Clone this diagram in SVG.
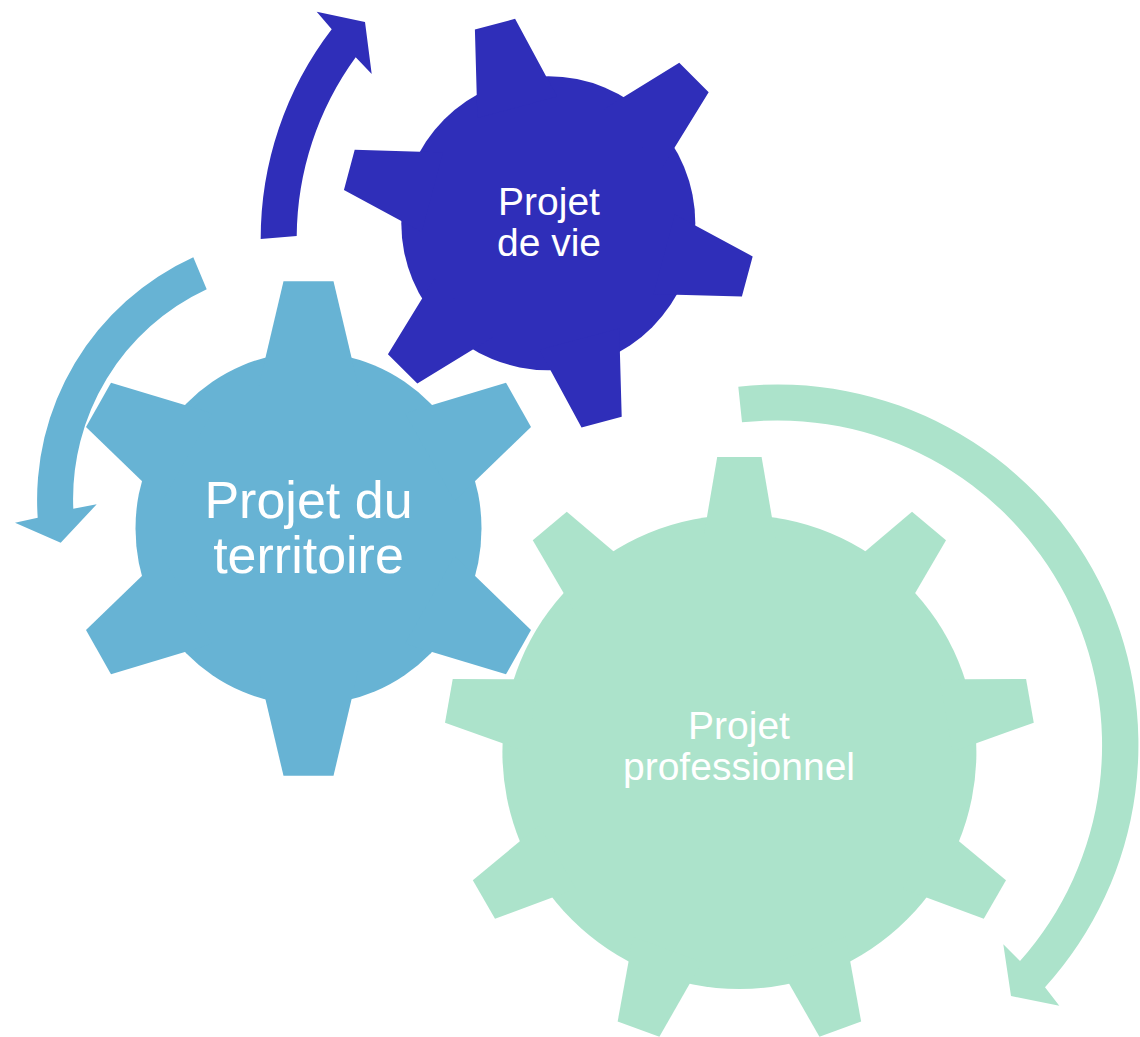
<svg xmlns="http://www.w3.org/2000/svg" width="1140" height="1037" viewBox="0 0 1140 1037">
  <style>
    .lbl { font-family: "Liberation Sans", Arial, sans-serif; fill: #ffffff; text-anchor: middle; }
    .c1 { fill: #2F2EB9; }
    .c2 { fill: #67B3D4; }
    .c3 { fill: #ACE3CB; }
  </style>
  <defs>
    <polygon id="tooth1" points="120,-41.3 142.55,-35.9 206,-20.8 206,20.8 142.55,35.9 120,41.3"/>
    <polygon id="tooth2" points="140,-49.6 167.6,-43 242.5,-25 242.5,25 167.6,43 140,49.6"/>
    <polygon id="tooth3" points="210,-36.7 234.76,-32.5 295,-22.2 295,22.2 234.76,32.5 210,36.7"/>
  </defs>

  <rect x="0" y="0" width="1140" height="1037" fill="#ffffff"/>

  <g id="connectors">
    <path id="arrow-vie" class="c1" d="M260.7,239 A344,344 0 0 1 331.7,29.3 L316.7,11.7 L365,22 L371.7,74 L355.7,57.3 A308,308 0 0 0 296.7,236 Z"/>
    <path id="arrow-territoire" class="c2" d="M193.3,257.3 A266.2,266.2 0 0 0 37.7,517.7 L15,522.7 L60.7,542.7 L96.7,504.3 L73.3,508.7 A231,231 0 0 1 206.7,289.3 Z"/>
    <path id="arrow-pro" class="c3" d="M738.3,386.7 A360.6,360.6 0 0 1 1045,987.3 L1059.3,1005.7 L1011,996 L1003.3,944.3 L1020,961 A324.8,324.8 0 0 0 742,422.3 Z"/>
  </g>

  <g id="gear-professionnel" class="c3">
    <g transform="translate(739.4,752)">
      <circle r="237"/>
      <use href="#tooth3" transform="rotate(-90)"/>
      <use href="#tooth3" transform="rotate(-50)"/>
      <use href="#tooth3" transform="rotate(-10)"/>
      <use href="#tooth3" transform="rotate(30)"/>
      <use href="#tooth3" transform="rotate(70)"/>
      <use href="#tooth3" transform="rotate(110)"/>
      <use href="#tooth3" transform="rotate(150)"/>
      <use href="#tooth3" transform="rotate(190)"/>
      <use href="#tooth3" transform="rotate(230)"/>
    </g>
    <text class="lbl" font-size="39" x="739" y="739">Projet</text>
    <text class="lbl" font-size="39" x="739" y="780">professionnel</text>
  </g>

  <g id="gear-territoire" class="c2">
    <g transform="translate(308.5,528.5) scale(1,1.02)">
      <circle r="173"/>
      <use href="#tooth2" transform="rotate(-90)"/>
      <use href="#tooth2" transform="rotate(-30)"/>
      <use href="#tooth2" transform="rotate(30)"/>
      <use href="#tooth2" transform="rotate(90)"/>
      <use href="#tooth2" transform="rotate(150)"/>
      <use href="#tooth2" transform="rotate(210)"/>
    </g>
    <text class="lbl" font-size="52" x="308.5" y="517.6">Projet du</text>
    <text class="lbl" font-size="52" x="308.5" y="573">territoire</text>
  </g>

  <g id="gear-vie" class="c1">
    <g transform="translate(548.3,223.2)">
      <circle r="147"/>
      <use href="#tooth1" transform="rotate(-105)"/>
      <use href="#tooth1" transform="rotate(-45)"/>
      <use href="#tooth1" transform="rotate(15)"/>
      <use href="#tooth1" transform="rotate(75)"/>
      <use href="#tooth1" transform="rotate(135)"/>
      <use href="#tooth1" transform="rotate(195)"/>
    </g>
    <text class="lbl" font-size="39" x="549" y="215">Projet</text>
    <text class="lbl" font-size="39" x="549" y="256">de vie</text>
  </g>
</svg>
